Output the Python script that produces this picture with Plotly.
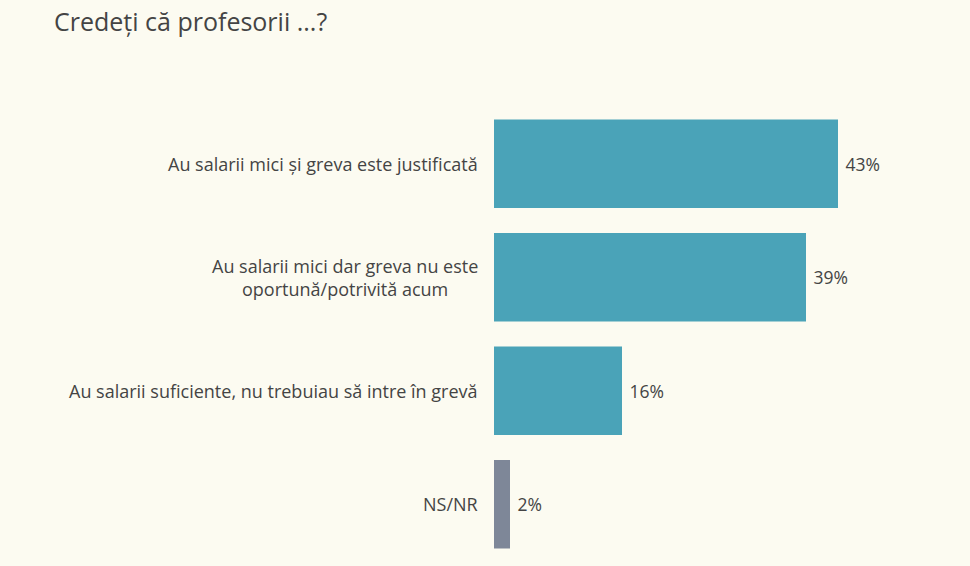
import plotly.graph_objects as go

categories = [
    "Au salarii mici și greva este justificată",
    "Au salarii mici dar greva nu este<br>oportună/potrivită acum",
    "Au salarii suficiente, nu trebuiau să intre în grevă",
    "NS/NR",
]
values = [43, 39, 16, 2]
labels = ["43%", "39%", "16%", "2%"]
colors = ["#4aa3b8", "#4aa3b8", "#4aa3b8", "#7e8798"]

fig = go.Figure(
    go.Bar(
        x=values,
        y=categories,
        orientation="h",
        marker=dict(color=colors, line=dict(width=0)),
        text=labels,
        texttemplate=" %{text}",
        textposition="outside",
        textfont=dict(size=17.5, color="#444444"),
        cliponaxis=False,
        width=0.78,
        hoverinfo="skip",
    )
)

# category labels as centred, right-anchored annotations
for cat in categories:
    fig.add_annotation(
        x=0,
        xref="paper",
        y=cat,
        yref="y",
        text=cat,
        showarrow=False,
        xanchor="right",
        yanchor="middle",
        align="center",
        xshift=-14,
        font=dict(size=18, color="#444444"),
    )

fig.update_layout(
    width=970,
    height=566,
    paper_bgcolor="#fcfbf1",
    plot_bgcolor="#fcfbf1",
    font=dict(family="Open Sans, Lato, sans-serif", color="#444444"),
    margin=dict(l=494, r=76, t=107, b=5),
    title=dict(
        text="Credeți că profesorii ...?",
        x=54 / 970,
        xanchor="left",
        y=1 - 22 / 566,
        yanchor="middle",
        font=dict(size=25, color="#444444"),
    ),
    showlegend=False,
    xaxis=dict(range=[0, 50], visible=False, fixedrange=True),
    yaxis=dict(
        autorange="reversed",
        showgrid=False,
        zeroline=False,
        showline=False,
        ticks="",
        showticklabels=False,
        fixedrange=True,
    ),
)

fig.write_html(
    "out.html",
    config={"displayModeBar": False},
    post_script="document.body.style.margin='0';document.body.style.background='#fcfbf1';",
)
